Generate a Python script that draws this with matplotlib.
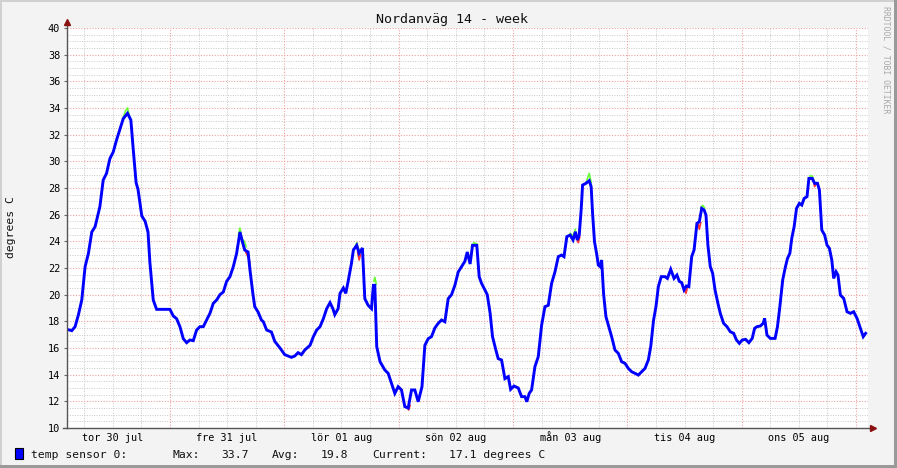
import matplotlib
matplotlib.use("Agg")
import matplotlib.pyplot as plt
from matplotlib.patches import Rectangle
import numpy as np

# time in hours relative to fre 31 jul 00:00
hours = [-21.6, -20.6, -19.9, -19.2, -18.5, -17.8, -17.1, -16.4, -15.7, -14.7,
         -14.0, -13.3, -12.6, -11.9, -11.2, -10.5, -9.8, -8.9, -8.2, -7.7,
         -7.1, -6.7, -5.9, -5.2, -4.6, -4.2, -3.5, -2.8, -1.4, 0.0,
         0.7, 1.4, 2.1, 2.8, 3.5, 4.2, 4.9, 5.6, 6.3, 7.0,
         7.7, 8.4, 9.1, 9.8, 10.5, 11.2, 11.9, 12.6, 13.3, 14.0,
         14.7, 15.3, 15.7, 16.4, 16.8, 17.4, 17.8, 18.5, 19.2, 19.6,
         20.3, 21.3, 22.0, 23.1, 24.1, 25.5, 26.2, 26.9, 27.6, 28.3,
         29.4, 30.1, 30.8, 31.5, 32.2, 32.9, 33.6, 34.2, 34.6, 35.3,
         35.7, 36.4, 36.9, 37.4, 38.1, 38.5, 39.2, 39.7, 40.4, 40.9,
         41.6, 42.3, 42.7, 43.0, 43.4, 44.1, 45.1, 45.8, 46.5, 47.2,
         47.9, 48.6, 49.3, 50.0, 50.7, 51.4, 52.1, 52.9, 53.5, 54.2,
         54.9, 55.6, 56.3, 57.0, 57.7, 58.4, 59.1, 59.8, 60.5, 61.2,
         61.9, 62.4, 63.0, 63.5, 64.4, 64.9, 65.4, 66.1, 66.6, 67.2,
         67.7, 68.4, 68.9, 69.6, 70.3, 71.0, 71.5, 72.2, 73.1, 73.8,
         74.5, 74.9, 75.4, 75.9, 76.6, 77.3, 78.0, 78.7, 79.4, 80.1,
         80.8, 81.5, 82.2, 82.7, 83.3, 84.0, 84.6, 85.1, 85.5, 85.9,
         86.3, 86.6, 87.3, 88.0, 88.4, 88.7, 89.1, 89.6, 89.9, 90.3,
         90.6, 91.0, 91.5, 92.0, 92.7, 93.4, 94.1, 94.8, 95.5, 96.2,
         96.9, 97.6, 98.3, 99.0, 99.7, 100.4, 100.9, 101.5, 102.0, 102.5,
         103.1, 103.9, 104.4, 105.1, 105.8, 106.4, 106.9, 107.4, 107.9, 108.4,
         108.9, 109.5, 110.0, 110.6, 111.1, 111.6, 112.1, 112.5, 112.9, 113.4,
         113.9, 114.4, 115.0, 115.5, 116.2, 116.9, 117.6, 118.3, 118.9, 119.5,
         120.1, 120.8, 121.5, 122.2, 122.7, 123.2, 123.9, 124.5, 124.8, 125.3,
         126.0, 127.0, 127.5, 128.0, 128.6, 129.1, 129.6, 130.1, 130.5, 131.0,
         131.5, 132.1, 132.6, 133.1, 133.7, 134.1, 134.8, 135.3, 135.9, 136.3,
         136.8, 137.4, 137.9, 138.4, 138.9, 139.3, 139.8, 140.2, 140.7, 141.4,
         142.1, 142.8, 143.5, 144.2, 144.9, 145.5, 146.0]

temp_avg = [17.4, 17.3, 17.6, 18.5, 19.6, 22.1, 23.1, 24.7, 25.1, 26.6,
            28.6, 29.1, 30.2, 30.7, 31.6, 32.4, 33.2, 33.6, 33.1, 30.9,
            28.4, 27.9, 25.9, 25.5, 24.7, 22.4, 19.6, 18.9, 18.9, 18.9,
            18.4, 18.2, 17.6, 16.7, 16.4, 16.6, 16.55, 17.35, 17.6, 17.6,
            18.1, 18.6, 19.35, 19.6, 20.0, 20.2, 21.0, 21.35, 22.1, 23.1,
            24.7, 23.85, 23.35, 23.2, 21.85, 20.1, 19.1, 18.7, 18.1, 17.97,
            17.35, 17.2, 16.5, 16.0, 15.5, 15.3, 15.4, 15.65, 15.5, 15.85,
            16.2, 16.85, 17.35, 17.6, 18.2, 18.95, 19.4, 18.95, 18.5, 18.95,
            20.1, 20.5, 20.1, 21.0, 22.35, 23.35, 23.7, 23.1, 23.5, 19.7,
            19.2, 18.95, 20.7, 20.7, 16.1, 14.97, 14.35, 14.1, 13.35, 12.6,
            13.1, 12.85, 11.6, 11.5, 12.85, 12.85, 11.97, 13.1, 16.2, 16.7,
            16.85, 17.5, 17.85, 18.1, 17.97, 19.7, 20.0, 20.7, 21.7, 22.1,
            22.5, 23.2, 22.3, 23.7, 23.7, 21.35, 20.85, 20.35, 20.0, 18.6,
            16.85, 15.85, 15.2, 15.1, 13.7, 13.85, 12.9, 13.15, 13.0, 12.35,
            12.35, 11.97, 12.6, 12.85, 14.6, 15.35, 17.7, 19.1, 19.2, 20.85,
            21.7, 22.85, 22.97, 22.85, 24.35, 24.47, 24.1, 24.72, 24.1, 24.47,
            26.35, 28.22, 28.35, 28.55, 28.1, 26.1, 23.97, 22.97, 22.22, 22.1,
            22.6, 20.1, 18.35, 17.72, 16.85, 15.85, 15.6, 14.97, 14.85, 14.47,
            14.22, 14.1, 13.97, 14.22, 14.47, 15.1, 16.1, 18.1, 19.1, 20.6,
            21.35, 21.35, 21.22, 21.9, 21.22, 21.47, 21.0, 20.9, 20.35, 20.65,
            20.6, 22.85, 23.35, 25.35, 25.47, 26.47, 26.35, 25.97, 23.72, 22.1,
            21.6, 20.35, 19.35, 18.6, 17.85, 17.6, 17.22, 17.1, 16.6, 16.35,
            16.6, 16.65, 16.4, 16.72, 17.47, 17.6, 17.65, 17.85, 18.22, 16.97,
            16.72, 16.72, 17.6, 19.1, 21.1, 21.98, 22.72, 23.1, 24.22, 25.1,
            26.47, 26.85, 26.72, 27.22, 27.35, 28.72, 28.72, 28.35, 28.35, 27.85,
            24.85, 24.47, 23.72, 23.47, 22.6, 21.22, 21.72, 21.47, 19.97, 19.72,
            18.72, 18.6, 18.72, 18.22, 17.47, 16.85, 17.1]

nan = float("nan")
# short green (max) and red (min) excursions visible around the blue line
max_hours = [-9.8, -9.3, -8.9, -8.5, nan, 14.4, 14.7, 15.1, 15.6, 16.0, nan,
             38.8, 39.2, 39.6, nan, 42.8, 43.0, 43.3, nan, 63.3, 63.8, 64.4, nan,
             84.0, 84.6, 85.1, nan, 87.5, 88.0, 88.4, nan, 111.4, 111.8, 112.2, nan,
             134.3, 134.8, 135.2]
max_vals = [33.3, 33.8, 34.0, 33.4, nan, 24.5, 25.0, 24.2, 24.0, 23.6, nan,
            23.5, 23.9, 23.4, nan, 21.0, 21.3, 20.8, nan, 23.6, 23.9, 23.8, nan,
            24.6, 24.4, 24.9, nan, 28.6, 29.1, 28.4, nan, 26.5, 26.7, 26.5, nan,
            28.9, 28.9, 28.5]
min_hours = [15.9, 16.4, 16.8, nan, 39.4, 39.7, 40.0, nan, 49.8, 50.1, 50.4, nan,
             85.3, 85.7, 86.0, nan, 108.0, 108.3, 108.6, nan, 110.8, 111.1, 111.4, nan,
             135.0, 135.3, 135.6]
min_vals = [23.2, 22.8, 22.4, nan, 23.2, 22.6, 23.0, nan, 11.6, 11.35, 11.7, nan,
            24.3, 23.9, 24.3, nan, 20.4, 20.1, 20.5, nan, 25.4, 24.9, 25.4, nan,
            28.6, 28.1, 28.3]

day_labels = ["tor 30 jul", "fre 31 jul", "lör 01 aug", "sön 02 aug",
              "mån 03 aug", "tis 04 aug", "ons 05 aug"]
day_label_hours = [-12, 12, 36, 60, 84, 108, 132]
midnight_hours = [0, 24, 48, 72, 96, 120, 144]
six_hour_marks = list(range(-18, 147, 6))

stat_max = 33.7
stat_avg = 19.8
stat_current = 17.1

W, H = 897, 468
MONO = "DejaVu Sans Mono"

fig = plt.figure(figsize=(W / 100, H / 100), dpi=100)
fig.patch.set_facecolor("#f3f3f3")
ax = fig.add_axes([67 / W, 40 / H, 801 / W, 400 / H])
ax.set_facecolor("white")

ax.set_xlim(-21.6, 146.5)
ax.set_ylim(10, 40)

# grid: minor grey, major red-ish, both dotted
for h in six_hour_marks:
    if h not in midnight_hours:
        ax.axvline(h, color="#c8c8c8", lw=0.7, ls=(0, (1, 1.5)), zorder=1)
for v in np.arange(10.5, 40, 0.5):
    if v % 2 != 0:
        ax.axhline(v, color="#c8c8c8", lw=0.7, ls=(0, (1, 1.5)), zorder=1)
for h in midnight_hours:
    ax.axvline(h, color="#f0a0a0", lw=0.8, ls=(0, (1, 1.5)), zorder=1)
for v in range(12, 41, 2):
    ax.axhline(v, color="#f0a0a0", lw=0.8, ls=(0, (1, 1.5)), zorder=1)

ax.plot(max_hours, max_vals, color="#66ff33", lw=1.2, zorder=2)
ax.plot(min_hours, min_vals, color="#ff3333", lw=1.2, zorder=2)
ax.plot(hours, temp_avg, color="#0000ff", lw=2.1, zorder=3, solid_joinstyle="miter")

for s in ax.spines.values():
    s.set_visible(False)

ax.set_yticks(range(10, 41, 2))
ax.set_yticklabels([str(v) for v in range(10, 41, 2)], fontfamily=MONO, fontsize=7.4)
ax.tick_params(axis="y", length=2, width=0.8, color="#666666", pad=3)
ax.set_xticks(day_label_hours)
ax.set_xticklabels(day_labels, fontfamily=MONO, fontsize=7.3)
ax.tick_params(axis="x", length=0, pad=9.4)
for lab in ax.get_xticklabels():
    lab.set_verticalalignment("baseline")

# axis lines with small arrow heads
ax.plot([0, 0], [0, 1.013], transform=ax.transAxes, color="#555555", lw=1.0,
        clip_on=False, zorder=5)
ax.plot([-0.005, 1.005], [0, 0], transform=ax.transAxes, color="#555555", lw=1.0,
        clip_on=False, zorder=5)
ax.plot([0], [1.015], transform=ax.transAxes, marker="^", ms=4.5, color="#8b1010",
        clip_on=False, zorder=6)
ax.plot([1.006], [0], transform=ax.transAxes, marker=">", ms=4.5, color="#8b1010",
        clip_on=False, zorder=6)

fig.text(452 / W, 1 - 23 / H, "Nordanväg 14 - week", ha="center", va="baseline",
         fontfamily=MONO, fontsize=9.6, color="#111111")
fig.text(11 / W, 1 - 227 / H, "degrees C", rotation=90, ha="center", va="center",
         fontfamily=MONO, fontsize=8.2, color="#111111")
fig.text(886 / W, 1 - 6 / H, "RRDTOOL / TOBI OETIKER", rotation=-90, ha="center",
         va="top", fontfamily=MONO, fontsize=5.9, color="#a8a8a8")

# legend line
fig.patches.append(Rectangle((15 / W, 1 - 459 / H), 8 / W, 11 / H, transform=fig.transFigure,
                             facecolor="#0000ff", edgecolor="#000000", lw=0.8))
leg_y = 1 - 458 / H
for xpix, txt in [(31, "temp sensor 0:"), (172, "Max:"), (221, f"{stat_max:.1f}"),
                  (272, "Avg:"), (321, f"{stat_avg:.1f}"), (372, "Current:"),
                  (449, f"{stat_current:.1f} degrees C")]:
    fig.text(xpix / W, leg_y, txt, ha="left", va="baseline", fontfamily=MONO,
             fontsize=8.2, color="#111111")

# 3d style frame
fig.patches.append(Rectangle((0, 0), 2 / W, 1, transform=fig.transFigure, color="#d0d0d0", lw=0))
fig.patches.append(Rectangle((0, 1 - 2 / H), 1, 2 / H, transform=fig.transFigure, color="#d0d0d0", lw=0))
fig.patches.append(Rectangle((1 - 3 / W, 0), 3 / W, 1, transform=fig.transFigure, color="#9a9a9a", lw=0))
fig.patches.append(Rectangle((0, 0), 1, 3 / H, transform=fig.transFigure, color="#9a9a9a", lw=0))

fig.savefig("out.png", dpi=100, facecolor=fig.get_facecolor())
